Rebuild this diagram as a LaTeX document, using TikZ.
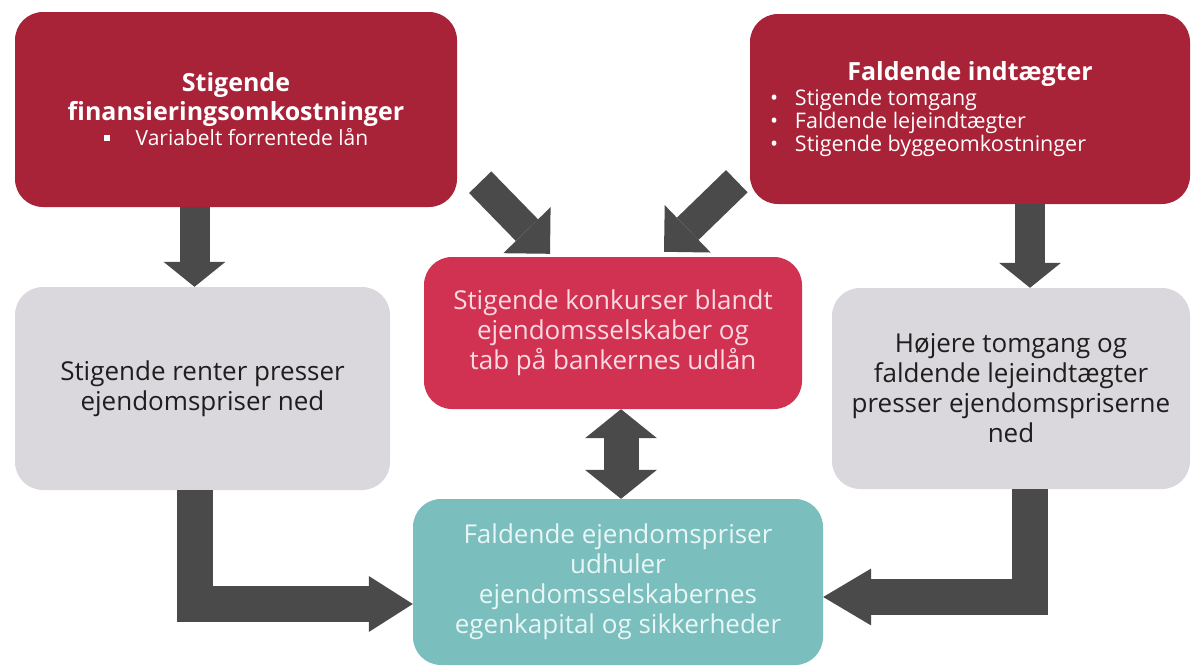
\documentclass[tikz,border=0pt]{standalone}
\usepackage{fontspec}
\setmainfont{Open Sans}
\usepackage{tikz}
\usetikzlibrary{arrows.meta,positioning,calc}
\definecolor{ejdred}{RGB}{168,34,56}
\definecolor{ejdcrimson}{RGB}{210,50,82}
\definecolor{ejdgray}{RGB}{218,216,220}
\definecolor{ejdteal}{RGB}{122,190,190}
\definecolor{ejdarrow}{RGB}{74,74,74}
\definecolor{ejdpink}{RGB}{250,218,225}
\definecolor{ejdmint}{RGB}{234,246,246}
\definecolor{ejdtext}{RGB}{30,30,30}

\begin{document}
\begin{tikzpicture}[
        x=1pt, y=-1pt,
        every node/.style={font=\fontsize{26}{30}\selectfont},
        box/.style={rectangle, rounded corners=28pt, inner sep=0pt, align=center},
        fatarrow/.style n args={3}{draw=ejdarrow, line width=#1, -{Triangle[length=#2, width=#3, line width=0pt]}},
        fatboth/.style n args={3}{draw=ejdarrow, line width=#1, {Triangle[length=#2, width=#3, line width=0pt]}-{Triangle[length=#2, width=#3, line width=0pt]}}
    ]
        \fill[white] (0,0) rectangle (1195,667);
        \useasboundingbox (0,0) rectangle (1195,667);

        % causes
        \node[box, fill=ejdred, text=white, minimum width=442pt, minimum height=195pt, text width=420pt] (costs) at (236,109.5) {
            {\bfseries\fontsize{25}{29}\selectfont Stigende\\ finansieringsomkostninger\par}
            {\fontsize{21}{25}\selectfont\spaceskip=0pt\makebox[\linewidth]{\rule[5pt]{6pt}{6pt}\hspace{26pt}Variabelt forrentede lån}\par}
        };
        \node[box, fill=ejdred, text=white, minimum width=440pt, minimum height=190pt, text width=400pt, align=left] (income) at (970,109) {
            {\bfseries\fontsize{25}{29}\selectfont\spaceskip=0pt\makebox[\linewidth]{Faldende indtægter}\par}
            \vspace{2pt}
            {\fontsize{21.5}{23}\selectfont\spaceskip=0pt
            \mbox{\makebox[25pt][l]{•}Stigende tomgang}\\
            \mbox{\makebox[25pt][l]{•}Faldende lejeindtægter}\\
            \mbox{\makebox[25pt][l]{•}Stigende byggeomkostninger}\par}
        };

        % effects
        \node[box, fill=ejdcrimson, text=ejdpink, minimum width=378pt, minimum height=152pt] (bankruptcy) at (613,333) {Stigende konkurser blandt\\ ejendomsselskaber og\\ tab på bankernes udlån};
        \node[box, fill=ejdgray, text=ejdtext, minimum width=375pt, minimum height=203pt] (rates) at (202.5,388.5) {Stigende renter presser\\ ejendomspriser ned};
        \node[box, fill=ejdgray, text=ejdtext, minimum width=358pt, minimum height=201pt] (vacancy) at (1011,388.5) {Højere tomgang og\\ faldende lejeindtægter\\ presser ejendomspriserne\\ ned};
        \node[box, fill=ejdteal, text=ejdmint, minimum width=410pt, minimum height=166pt] (prices) at (618,582) {Faldende ejendomspriser\\ udhuler\\ ejendomsselskabernes\\ egenkapital og sikkerheder};

        % arrows
        \draw[fatarrow={30pt}{25pt}{62pt}] ($(costs.south -| rates.north)+(-8,0)$) -- ($(rates.north)+(-8,0)$);
        \draw[fatarrow={30pt}{25pt}{62pt}] ($(income.south -| vacancy.north)+(19,0)$) -- ($(vacancy.north)+(19,0)$);
        \draw[fatarrow={31pt}{33pt}{66pt}] ($(costs.south east)+(23,-25)$) -- ($(bankruptcy.north)+(-63,-3)$);
        \draw[fatarrow={31pt}{33pt}{66pt}] ($(income.south west)+(-13,-23)$) -- ($(bankruptcy.north)+(51,-5)$);
        \draw[fatboth={35pt}{29pt}{72pt}] ($(bankruptcy.south)+(8,0)$) -- ($(bankruptcy.south |- prices.north)+(8,0)$);
        \draw[fatarrow={36pt}{44pt}{56pt}] ($(rates.south)+(-8,0)$) |- ($(prices.west)+(0,22)$);
        \draw[fatarrow={36pt}{48pt}{57pt}] ($(vacancy.south)+(19,0)$) |- ($(prices.east)+(0,15)$);
    \end{tikzpicture}
\end{document}
